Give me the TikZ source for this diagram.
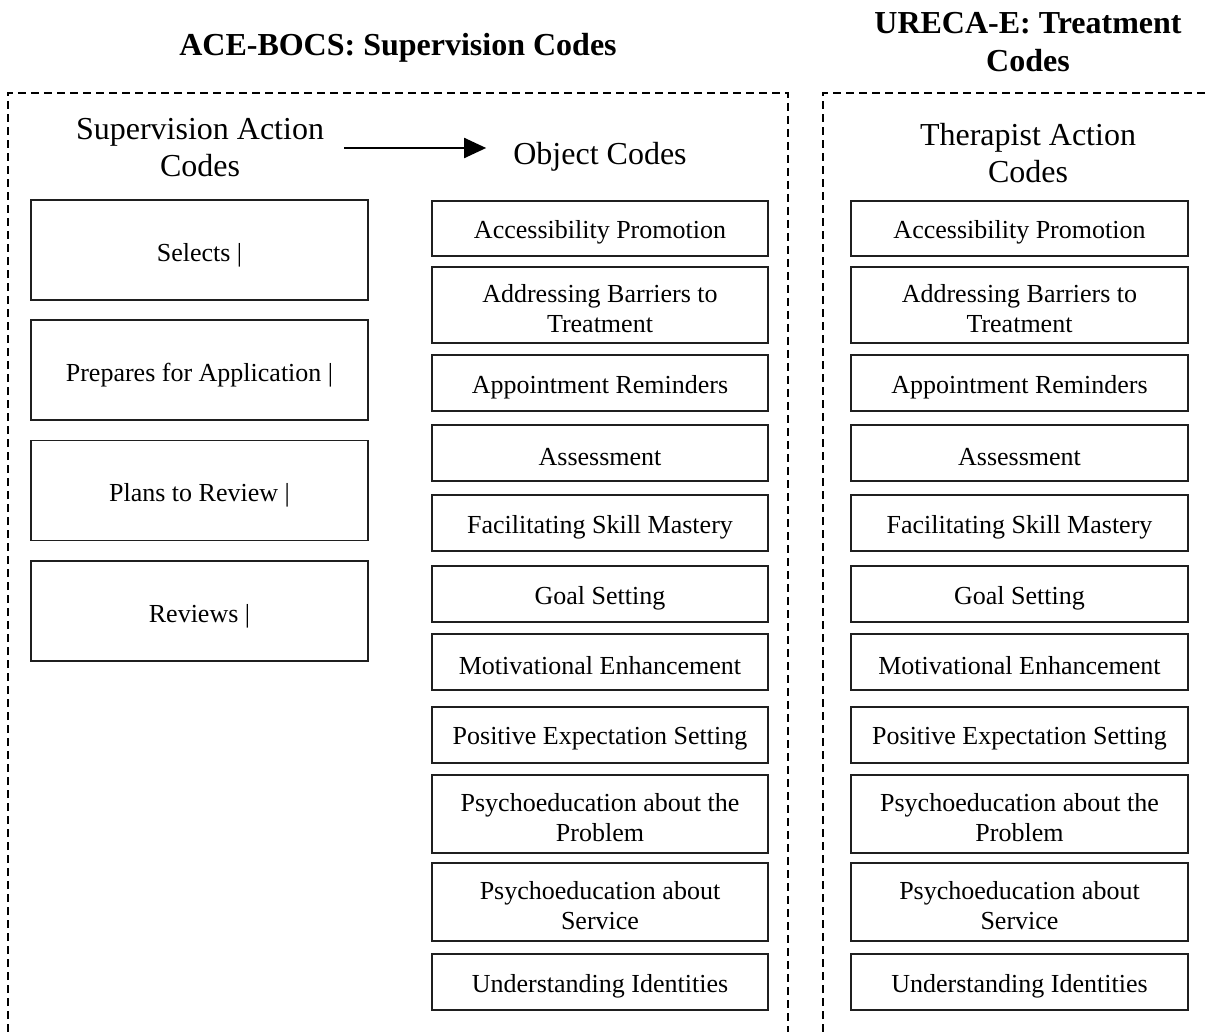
\documentclass[tikz,border=0pt]{standalone}
\usepackage{fontspec}
\setmainfont{Liberation Serif}
\usetikzlibrary{arrows.meta}
\begin{document}
\begin{tikzpicture}[x=1pt,y=-1pt,
  codebox/.style={draw=black!88, line width=1.8pt, inner sep=0pt},
  boxtext/.style={align=center, inner sep=0pt, yshift=-4pt,
    font=\fontsize{26}{30}\selectfont},
  leftbox/.style={codebox, minimum width=337pt, minimum height=100pt},
  midbox/.style={codebox, minimum width=336pt},
  rightbox/.style={codebox, minimum width=337pt},
  heading/.style={align=center, inner sep=0pt, font=\fontsize{32}{37}\selectfont},
  title/.style={align=center, inner sep=0pt, font=\bfseries\fontsize{32}{38}\selectfont},
  frame/.style={dashed, dash pattern=on 8pt off 5pt, line width=1.8pt, draw=black},
  flow/.style={-{Triangle[length=22pt,width=20pt]}, line width=2pt}]
\useasboundingbox (0,0) rectangle (1207,1032);
\clip (0,0) rectangle (1207,1032);
\fill[white] (0,0) rectangle (1207,1032);

% titles
\node[title] (tl) at (398,48) {ACE-BOCS: Supervision Codes};
\node[title] (tr) at (1028,42) {URECA-E: Treatment\\Codes};

% dashed frames (open at the bottom / right, cut by the page)
\draw[frame] (8,1045) -- (8,93) -- (788,93) -- (788,1045);
\draw[frame] (823,1045) -- (823,93) -- (1215,93);

% column headings
\node[heading] (sac) at (200,147.5) {Supervision Action\\Codes};
\node[heading] (obj) at (600,157) {Object Codes};
\node[heading] (tac) at (1028,153) {Therapist Action\\Codes};
\draw[flow, shorten <=20pt, shorten >=27pt] ([yshift=-0.5pt]sac.east) -- ([yshift=-0.5pt]sac.east -| obj.west);

% supervision action codes
\node[leftbox, label={[boxtext, yshift=-1pt]center:Selects |}] (s1) at (199.5,250) {};
\node[leftbox, label={[boxtext, yshift=-1pt]center:Prepares for Application |}] (s2) at (199.5,370) {};
\node[leftbox, label={[boxtext, yshift=-1pt]center:Plans to Review |}] (s3) at (199.5,490.5) {};
\node[leftbox, label={[boxtext, yshift=-1pt]center:Reviews |}] (s4) at (199.5,611) {};

% object codes and therapist action codes
\foreach \n/\y/\h/\t in {
  1/228.5/55/{Accessibility Promotion},
  2/305/76/{Addressing Barriers to\\Treatment},
  3/383/56/{Appointment Reminders},
  4/453/56/{Assessment},
  5/523/56/{Facilitating Skill Mastery},
  6/594/56/{Goal Setting},
  7/662/56/{Motivational Enhancement},
  8/735/56/{Positive Expectation Setting},
  9/814/78/{Psychoeducation about the\\Problem},
  10/902/78/{Psychoeducation about\\Service},
  11/982/56/{Understanding Identities}} {
  \node[midbox, minimum height=\h pt, label={[boxtext]center:\t}] (o\n) at (600,\y) {};
  \node[rightbox, minimum height=\h pt, label={[boxtext]center:\t}] (t\n) at (1019.5,\y) {};
}
\end{tikzpicture}
\end{document}
